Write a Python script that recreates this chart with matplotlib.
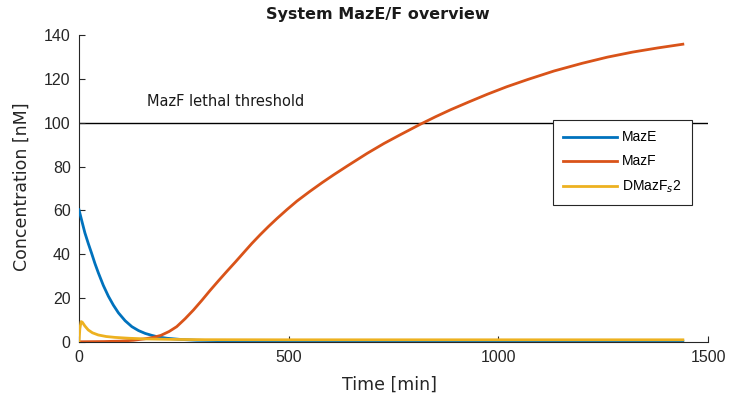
import numpy as np
import matplotlib
matplotlib.use("Agg")
import matplotlib.pyplot as plt

plt.rcParams['font.family'] = ['Liberation Sans', 'DejaVu Sans']

# Data
t_maze = [0, 7, 14, 22, 30, 38, 46, 58, 70, 82, 94, 110, 126, 142, 158, 174, 189, 210, 240, 280, 340, 450, 700, 1440]
maze = [60.3, 55.0, 49.8, 45.0, 40.5, 35.8, 31.6, 25.8, 20.9, 16.8, 13.3, 9.7, 7.0, 5.2, 3.9, 3.0, 2.3, 1.7, 1.2, 0.8, 0.6, 0.5, 0.4, 0.4]

t_mazf = [0, 60, 100, 130, 155, 175, 195, 215, 233, 253, 273, 293, 313, 333, 353, 373, 392, 412, 432, 452,
          472, 496, 520, 550, 580, 607, 640, 687, 727, 767, 814, 850, 886, 930, 974, 1020, 1070, 1133, 1200,
          1260, 1320, 1380, 1440]
mazf = [0.1, 0.2, 0.4, 0.8, 1.4, 2.0, 3.0, 4.8, 7.0, 10.6, 14.6, 19.0, 23.6, 28.0, 32.3, 36.5, 40.6, 44.9, 48.9, 52.7,
        56.3, 60.4, 64.3, 68.6, 72.7, 76.2, 80.3, 86.0, 90.5, 94.6, 99.3, 102.7, 105.9, 109.5, 113.0, 116.4, 119.7,
        123.6, 127.1, 129.9, 132.2, 134.1, 135.8]

t_dmazf = [0, 2, 5, 8, 14, 22, 32, 46, 65, 86, 120, 160, 220, 300, 500, 1440]
dmazf = [0.0, 6.0, 9.3, 9.0, 7.3, 5.5, 4.2, 3.2, 2.5, 2.1, 1.7, 1.4, 1.2, 1.05, 1.0, 1.0]

threshold = 100
series_labels = ["MazE", "MazF", "DMazF$_{s}$2"]
colors = ["#0072BD", "#D95319", "#EDB120"]

W, H = 736, 404
fig = plt.figure(figsize=(W / 100, H / 100), dpi=100)
ax = fig.add_axes([79 / W, 1 - 342 / H, 629 / W, 307 / H])

ax.axhline(threshold, color="black", lw=1.0, zorder=1)
ax.text(162, 109.6, "MazF lethal threshold", fontsize=10.5, ha="left", va="center",
        family=['DejaVu Sans'], color='#1a1a1a')

ax.plot(t_maze, maze, color=colors[0], lw=2, label=series_labels[0], zorder=3)
ax.plot(t_mazf, mazf, color=colors[1], lw=2, label=series_labels[1], zorder=3)
ax.plot(t_dmazf, dmazf, color=colors[2], lw=2, label=series_labels[2], zorder=4)

ax.set_xlim(0, 1500)
ax.set_ylim(0, 140)
ax.set_xticks([0, 500, 1000, 1500])
ax.set_yticks(np.arange(0, 141, 20))
ax.spines['top'].set_visible(False)
ax.spines['right'].set_visible(False)
for s in ['left', 'bottom']:
    ax.spines[s].set_color('#262626')
    ax.spines[s].set_linewidth(0.8)
ax.tick_params(direction='in', labelsize=11.5, colors='#262626', length=4, pad=6)

fig.text(390 / W, 1 - 385 / H, "Time [min]", fontsize=12.5, ha='center', va='center',
         family=['DejaVu Sans'], color='#262626')
fig.text(22 / W, 1 - 187 / H, "Concentration [nM]", fontsize=12.5, ha='center', va='center',
         rotation=90, family=['DejaVu Sans'], color='#262626')
fig.text(378 / W, 1 - 15 / H, "System MazE/F overview", fontsize=11.5, fontweight='bold',
         ha='center', va='center', family=['DejaVu Sans'], color='#1a1a1a')

leg = ax.legend(loc='upper right', bbox_to_anchor=((692 - 79) / 629, (342 - 120) / 307),
                borderaxespad=0, fontsize=10, frameon=True, fancybox=False,
                edgecolor='#262626', framealpha=1, handlelength=3.9, handletextpad=0.35,
                borderpad=0.75, labelspacing=0.72)
leg.get_frame().set_linewidth(0.8)
leg.set_zorder(5)

fig.savefig("out.png", dpi=100)
